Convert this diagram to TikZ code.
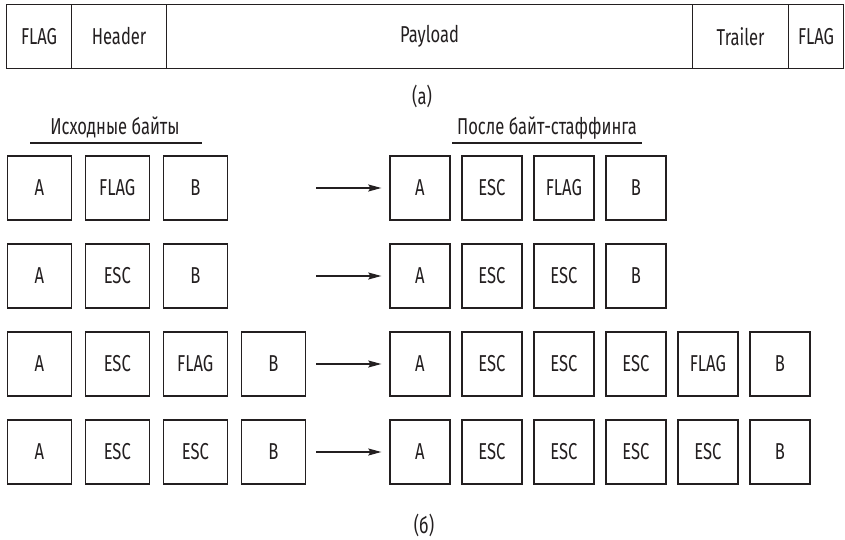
\documentclass[tikz,border=0pt]{standalone}
\usepackage{fontspec}
\setmainfont{Fira Sans}[FakeStretch=0.72]
\usetikzlibrary{arrows.meta}
\definecolor{ink}{HTML}{231F20}
\begin{document}
\begin{tikzpicture}[x=1pt,y=-1pt,
  cell/.style={draw=ink, line width=1.2pt, inner sep=0pt, minimum height=64pt, anchor=west,
    font=\fontsize{23}{27}\selectfont, text=ink},
  lb/.style={cell, minimum width=64pt},
  rb/.style={cell, minimum width=60pt},
  lbl/.style={font=\fontsize{23}{27}\selectfont, text=ink, inner sep=0pt},
  arr/.style={draw=ink, line width=1.2pt, -{Stealth[length=13pt,width=7pt,inset=2pt]}, shorten >=8pt},
  uline/.style={draw=ink, line width=1.2pt}]
\useasboundingbox (0,0) rectangle (845,540);
% (a) frame
\node[cell, minimum width=65pt, minimum height=64.5pt] (t1) at (6,36.5) {FLAG};
\node[cell, minimum width=95pt, minimum height=64.5pt] (t2) at (71,36.5) {Header};
\node[cell, minimum width=526pt, minimum height=64.5pt] (t3) at (166,36.5) {Payload};
\node[cell, minimum width=96pt, minimum height=64.5pt] (t4) at (692,36.5) {Trailer};
\node[cell, minimum width=55pt, minimum height=64.5pt] (t5) at (788,36.5) {FLAG};
\node[lbl] (capa) at (422,96) {(a)};
% headings
\node[lbl, anchor=base] (hl) at (115,135) {Исходные байты};
\draw[uline] (30,143) -- (202,143);
\node[lbl, anchor=base] (hr) at (547,135) {После байт-стаффинга};
\draw[uline] (452,143) -- (642,143);
% row 1
\foreach \t [count=\i] in {A,FLAG,B} \node[lb] (L1-\i) at ({6.7+78*(\i-1)},188) {\t};
\foreach \t [count=\i] in {A,ESC,FLAG,B} \node[rb] (R1-\i) at ({389.3+72*(\i-1)},188) {\t};
% row 2
\foreach \t [count=\i] in {A,ESC,B} \node[lb] (L2-\i) at ({6.7+78*(\i-1)},276) {\t};
\foreach \t [count=\i] in {A,ESC,ESC,B} \node[rb] (R2-\i) at ({389.3+72*(\i-1)},276) {\t};
% row 3
\foreach \t [count=\i] in {A,ESC,FLAG,B} \node[lb] (L3-\i) at ({6.7+78*(\i-1)},364) {\t};
\foreach \t [count=\i] in {A,ESC,ESC,ESC,FLAG,B} \node[rb] (R3-\i) at ({389.3+72*(\i-1)},364) {\t};
% row 4
\foreach \t [count=\i] in {A,ESC,ESC,B} \node[lb] (L4-\i) at ({6.7+78*(\i-1)},452) {\t};
\foreach \t [count=\i] in {A,ESC,ESC,ESC,ESC,B} \node[rb] (R4-\i) at ({389.3+72*(\i-1)},452) {\t};
% arrows
\coordinate (s1) at (316,188);
\coordinate (s2) at (316,276);
\coordinate (s3) at (316,364);
\coordinate (s4) at (316,452);
\draw[arr] (s1) -- (R1-1.west);
\draw[arr] (s2) -- (R2-1.west);
\draw[arr] (s3) -- (R3-1.west);
\draw[arr] (s4) -- (R4-1.west);
\node[lbl] (capb) at (424,525) {(б)};
\end{tikzpicture}
\end{document}
